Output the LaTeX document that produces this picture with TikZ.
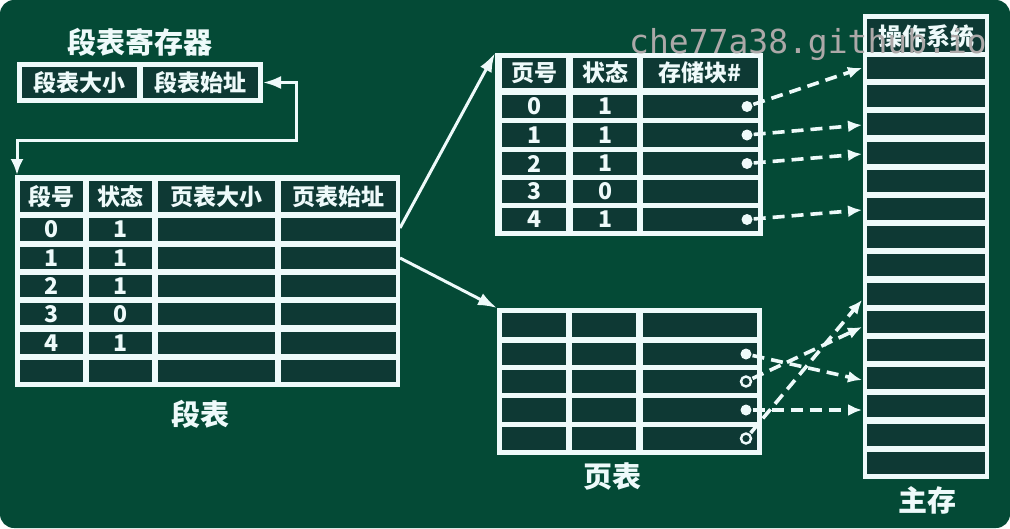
\documentclass[tikz,border=0pt]{standalone}
\usepackage{fontspec}
\setmainfont{Noto Sans CJK SC}
\newfontfamily\wmfont{DejaVu Sans Mono}
\usetikzlibrary{arrows.meta}
\definecolor{bgc}{RGB}{4,74,54}
\definecolor{cellc}{RGB}{14,57,52}
\definecolor{linec}{RGB}{238,250,250}
\definecolor{wmc}{RGB}{172,168,168}
\tikzset{
  frame/.style={fill=linec, draw=none, inner sep=0pt, outer sep=0pt, anchor=north west},
  txt/.style={text=linec, inner sep=0pt, font=\bfseries\fontsize{23}{23}\selectfont},
  bigtxt/.style={text=linec, inner sep=0pt, font=\bfseries\fontsize{29}{29}\selectfont},
  conn/.style={draw=linec, line width=3pt},
  dasharrow/.style={draw=linec, line width=3.6pt, dash pattern=on 12pt off 7pt, -{Latex[length=14pt,width=12pt]}, shorten <=1pt},
  dotf/.style={circle, fill=linec, draw=none, minimum size=11pt, inner sep=0pt},
  doto/.style={circle, fill=cellc, draw=linec, line width=2.4pt, minimum size=10pt, inner sep=0pt},
}
\begin{document}
\begin{tikzpicture}[x=1pt,y=-1pt]
\useasboundingbox (0,0) rectangle (1010,528);
\fill[white] (0,0) rectangle (1010,528);
\fill[bgc, rounded corners=14pt] (0,0) rectangle (1010,528);

% ---------- segment register ----------
\node[bigtxt] (regtitle) at (140,42) {段表寄存器};
\node[frame, minimum width=246pt, minimum height=41pt] (reg) at (17,62) {};
\fill[cellc] (22,67) rectangle (137,98);
\fill[cellc] (143,67) rectangle (258,98);
\node[txt] (regsize) at (79.5,82.5) {段表大小};
\node[txt] (regaddr) at (200.5,82.5) {段表始址};

% ---------- segment table ----------
\node[frame, minimum width=385pt, minimum height=212pt] (segtab) at (15,175) {};
\foreach \xa/\xb in {20/83,89/152,158/275,281/396}
  \foreach \ya/\yb in {181/212,218/241,247/269,275/297,303/325,332/354,360/382}
    \fill[cellc] (\xa,\ya) rectangle (\xb,\yb);
\node[txt] (sh1) at (51.5,196.5) {段号};
\node[txt] (sh2) at (120.5,196.5) {状态};
\node[txt] (sh3) at (216.5,196.5) {页表大小};
\node[txt] (sh4) at (338.5,196.5) {页表始址};
\foreach \n/\s/\y in {0/1/229.5,1/1/258,2/1/286,3/0/314,4/1/343}{
  \node[txt] (sn\n) at (51.5,\y) {\n};
  \node[txt] (ss\n) at (120.5,\y) {\s};
}
\node[bigtxt] (seglabel) at (200,414) {段表};

% register <-> segment table
\draw[conn, {Latex[length=18pt,width=13pt]}-{Latex[length=16pt,width=13pt]}]
  (reg.east) -- ++(33,0) -- ++(0,58) -| ([xshift=2pt]segtab.north west);

% ---------- page table 1 ----------
\node[frame, minimum width=268pt, minimum height=183pt] (pt1) at (495,53) {};
\foreach \xa/\xb in {502/566,573/637,643/758}
  \foreach \ya/\yb in {58/88,95/118,123/147,152/175,180/203,208/231}
    \fill[cellc] (\xa,\ya) rectangle (\xb,\yb);
\node[txt] (ph1) at (534,73) {页号};
\node[txt] (ph2) at (605,73) {状态};
\node[txt] (ph3) at (700,73) {存储块\#};
\foreach \n/\s/\y in {0/1/106.5,1/1/135,2/1/163.5,3/0/191.5,4/1/219.5}{
  \node[txt] (pn\n) at (534,\y) {\n};
  \node[txt] (ps\n) at (605,\y) {\s};
}
\node[dotf] (a0) at (747,106.5) {};
\node[dotf] (a1) at (747,135) {};
\node[dotf] (a2) at (747,163.5) {};
\node[dotf] (a4) at (747,219.5) {};

% ---------- page table 2 ----------
\node[frame, minimum width=265pt, minimum height=147pt] (pt2) at (497,308) {};
\foreach \xa/\xb in {502/566,572/636,643/757}
  \foreach \ya/\yb in {313/337,343/365,370/393,398/422,427/450}
    \fill[cellc] (\xa,\ya) rectangle (\xb,\yb);
\node[bigtxt] (ptlabel) at (612,477) {页表};
\node[dotf] (b1) at (746,354) {};
\node[doto] (b2) at (746,381.5) {};
\node[dotf] (b3) at (746,410) {};
\node[doto] (b4) at (746,438.5) {};

% ---------- main memory ----------
\node[frame, minimum width=126pt, minimum height=465pt] (mem) at (863,14) {};
\fill[cellc] (867,19) rectangle (985,52);
\foreach \i in {0,...,14}
  \fill[cellc] (867,{57+28.2*\i}) rectangle (985,{79+28.2*\i});
\node[txt, font=\bfseries\fontsize{24}{24}\selectfont] (os) at (926,36) {操作系统};
\node[bigtxt] (memlabel) at (927,500) {主存};

% ---------- segment table -> page tables ----------
\coordinate (s1) at (400,228);
\coordinate (s2) at (400,258);
\draw[conn, -{Latex[length=19pt,width=13pt]}] (s1) -- (pt1.north west);
\draw[conn, -{Latex[length=19pt,width=13pt]}] (s2) -- (pt2.north west);

% ---------- page tables -> main memory ----------
\coordinate (m1) at (862,68);
\coordinate (m3) at (862,125);
\coordinate (m4) at (862,154);
\coordinate (m6) at (862,210);
\coordinate (m9) at (862,300);
\coordinate (m10) at (862,327);
\coordinate (m12) at (862,380);
\coordinate (m13) at (862,410);
\draw[dasharrow] (a0) -- (m1);
\draw[dasharrow] (a1) -- (m3);
\draw[dasharrow] (a2) -- (m4);
\draw[dasharrow] (a4) -- (m6);
\draw[dasharrow] (b1) -- (m12);
\draw[dasharrow] (b2) -- (m10);
\draw[dasharrow] (b3) -- (m13);
\draw[dasharrow] (b4) -- (m9);

% ---------- watermark ----------
\node[text=wmc, inner sep=0pt, anchor=base west, font=\wmfont\fontsize{33}{33}\selectfont] (wm) at (629,53) {che77a38.github.io};
\end{tikzpicture}
\end{document}
